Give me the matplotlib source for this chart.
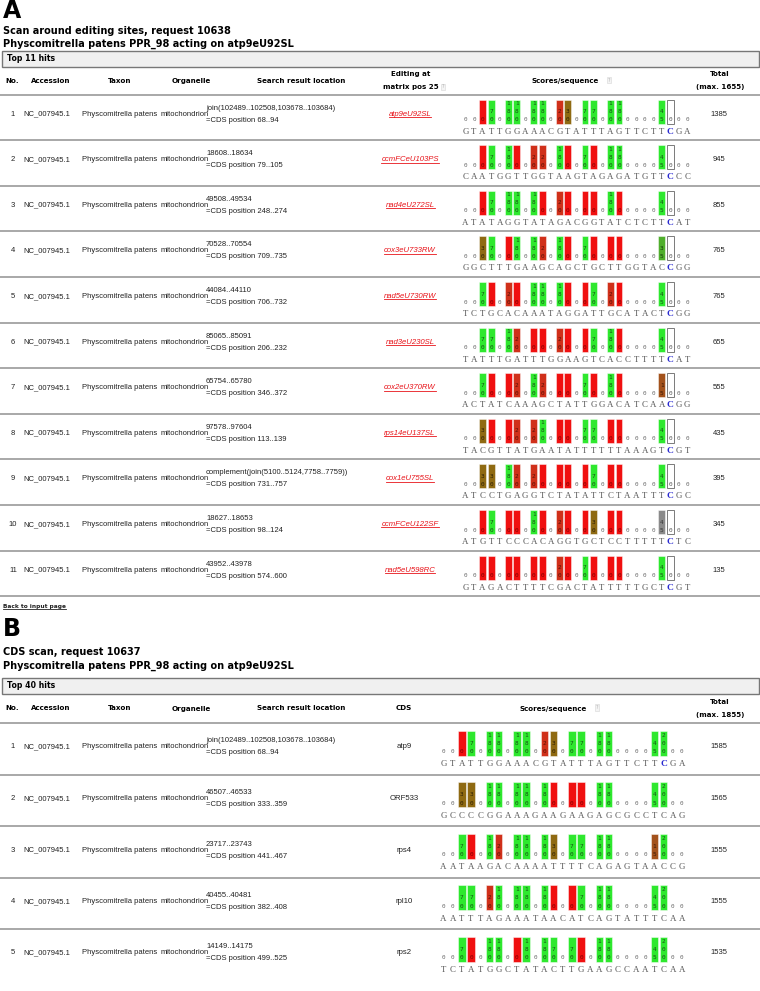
import matplotlib
matplotlib.use('Agg')
import matplotlib.pyplot as plt

# ---- data -------------------------------------------------------------
taxon = 'Physcomitrella patens'
organelle = 'mitochondrion'
accession = 'NC_007945.1'

a_location = ['join(102489..102508,103678..103684)', '18608..18634', '49508..49534',
              '70528..70554', '44084..44110', '85065..85091', '65754..65780',
              '97578..97604', 'complement(join(5100..5124,7758..7759))', '18627..18653',
              '43952..43978']
a_cds_pos = ['68..94', '79..105', '248..274', '709..735', '706..732', '206..232',
             '346..372', '113..139', '731..757', '98..124', '574..600']
a_edit = ['atp9eU92SL', 'ccmFCeU103PS', 'nad4eU272SL', 'cox3eU733RW', 'nad5eU730RW',
          'nad3eU230SL', 'cox2eU370RW', 'rps14eU137SL', 'cox1eU755SL', 'ccmFCeU122SF',
          'nad5eU598RC']
a_total = [1385, 945, 855, 765, 765, 655, 555, 435, 395, 345, 135]
a_seq = ['GTATTGGAAACGTATTTAGTTCTTCGA', 'CAATGGTTGGTAAGTAGAGATGTTCCC',
         'ATATAGGTATAGACGGTATCTCTTCAT', 'GGCTTTGAAGCAGCTGCTTGGTACCGG',
         'TCTGCACAAATAGGATTGCATACTCGG', 'TATTTGATTTGGAAGTCACCTTTTCAT',
         'ACTATCAAAGCTATTGGACATCAACGG', 'TACGTTATGAATATTTTTTAAAGTCGT',
         'ATCCTGAGGTCTATATTCTAATTTCGC', 'ATGTTCCCACAGGTGCTCCTTTTTCTC',
         'GTAGACTTTTCGACTATTTTTGCTCGT']
# per position score codes (see code_score / code_color)
a_codes = ['..rs.GG.GG.db.ss.GG....fw..', '..rs.Gr.dd.Gr.sr.GG....fw..',
           '..rs.GG.Gr.dr.rr.Gr....fw..', '..bs.rG.Gd.Gr.sr.rr....vw..',
           '..sr.dr.GG.Gr.rs.dr....fw..', '..ss.Gd.rr.dr.rs.Gr....fw..',
           '..sr.rd.Gd.rr.sr.Gr....ow..', '..br.rd.dG.rr.ss.rr....fw..',
           '..bb.Gd.dr.rr.rs.rr....fw..', '..rs.rr.Gr.dr.rb.rr....yw..',
           '..rr.rr.rr.dr.sr.rr....fw..']

b_location = ['join(102489..102508,103678..103684)', '46507..46533', '23717..23743',
              '40455..40481', '14149..14175']
b_cds_pos = ['68..94', '333..359', '441..467', '382..408', '499..525']
b_cds = ['atp9', 'ORF533', 'rps4', 'rpl10', 'rps2']
b_total = [1585, 1565, 1555, 1555, 1535]
b_seq = ['GTATTGGAAACGTATTTAGTTCTTCGA', 'GCCCCGGAAAGAAGAAGAGCGCCTCAG',
         'AATAAGACAAAATTTTCAGAGTAACCG', 'AATTTAGAAATAACATCAGTATTTCAA',
         'TCTATGGCTATACTTGAAGCCAATCAA']
b_codes = ['..rs.GG.GG.db.ss.GG....ft..', '..bb.GG.GG.Gr.rr.GG....ft..',
           '..sr.Gd.GG.Gb.ss.GG....ot..', '..ss.dG.GG.Gr.rs.GG....ft..',
           '..sr.GG.rG.Gs.sr.GG....ft..']
b_blue = [True, False, False, False, False]

code_score = {'r': 0, 'd': 20, 'b': 30, 's': 70, 'G': 180, 'f': 45,
              'o': 15, 'v': 35, 'y': 45, 'w': 0, 't': 200}
code_color = {'r': '#f01010', 'd': '#d0301a', 'b': '#8f6a12', 's': '#2ee82e',
              'G': '#2ee82e', 'f': '#2ee82e', 'o': '#a3521c', 'v': '#4fae2c',
              'y': '#8a8a8a', 'w': '#ffffff', 't': '#2ee82e'}
digit_color = {'r': '#800000', 'd': '#5a1005', 'b': '#2e2004', 's': '#145214',
               'G': '#145214', 'f': '#145214', 'o': '#3a1806', 'v': '#143a0a',
               'y': '#333333', 'w': '#555555', 't': '#145214'}

# ---- figure -----------------------------------------------------------
W, H = 760, 991
fig = plt.figure(figsize=(W / 100, H / 100), dpi=100)
ax = fig.add_axes([0, 0, 1, 1])
ax.set_xlim(0, W)
ax.set_ylim(H, 0)
ax.axis('off')

SANS = 'Liberation Sans'
BOLD = 'DejaVu Sans'
SERIF = 'Liberation Serif'
MONO = 'DejaVu Sans Mono'
underlined = []


def hline(y, color='#9a9a9a', lw=1.2):
    ax.plot([0, W], [y, y], color=color, lw=lw, solid_capstyle='butt')


def qmark(x, y):
    ax.text(x, y, '?', fontsize=3.5, color='#b0b0b0', ha='left', va='center', family=BOLD,
            bbox=dict(boxstyle='square,pad=0.15', fc='#f4f4f4', ec='#dddddd', lw=0.5))


def section_head(letter, title1, title2, hits, ys):
    y_letter, y_t1, y_t2, y_box = ys
    ax.text(3, y_letter, letter, fontsize=17, fontweight='bold', family=BOLD, va='center')
    ax.text(3, y_t1, title1, fontsize=7.0, fontweight='bold', family=BOLD, va='center')
    ax.text(3, y_t2, title2, fontsize=7.0, fontweight='bold', family=BOLD, va='center')
    ax.add_patch(plt.Rectangle((2, y_box), W - 3, 16, fc='#f0f0f0', ec='#777777', lw=1))
    ax.text(7, y_box + 8, hits, fontsize=5.6, fontweight='bold', family=BOLD, va='center')


def table_head(y, mid_label, mid_x, max_total, score_x):
    kw = dict(fontsize=5.1, fontweight='bold', family=BOLD, va='center')
    ax.text(5, y, 'No.', ha='left', **kw)
    ax.text(51, y, 'Accession', ha='center', **kw)
    ax.text(120, y, 'Taxon', ha='center', **kw)
    ax.text(191, y, 'Organelle', ha='center', **kw)
    ax.text(301, y, 'Search result location', ha='center', **kw)
    if len(mid_label) == 2:
        ax.text(mid_x, y - 7, mid_label[0], ha='center', **kw)
        ax.text(mid_x, y + 6, mid_label[1], ha='center', **kw)
        qmark(mid_x + 31, y + 6)
    else:
        ax.text(mid_x, y, mid_label[0], ha='center', **kw)
    ax.text(score_x, y, 'Scores/sequence', ha='center', **kw)
    qmark(score_x + 43, y - 1)
    ax.text(720, y - 7, 'Total', ha='center', **kw)
    ax.text(720, y + 6, '(max. %d)' % max_total, ha='center', **kw)


def scores(top, codes, seq, blue, x0, dx, s, pad):
    bar_top = top + pad
    bar_h = 24 * s
    zero_y = bar_top + 20.3 * s
    xs, cols, edges = [], [], []
    for j, c in enumerate(codes):
        x = x0 + dx * j
        if c == '.':
            ax.text(x, zero_y, '0', fontsize=4.3, family=MONO, color='#6a6a6a',
                    ha='center', va='center')
            continue
        xs.append(x)
        cols.append(code_color[c])
        edges.append('#7a7a7a' if c == 'w' else (1, 1, 1, 0.45))
        digits = str(code_score[c])
        for k, ch in enumerate(reversed(digits)):
            ax.text(x, zero_y - k * 8 * s, ch, fontsize=4.4, family=MONO,
                    color=digit_color[c], ha='center', va='center', zorder=4)
    ax.bar(xs, bar_h, bottom=bar_top, width=dx * 0.8, color=cols, edgecolor=edges,
           linewidth=0.7, zorder=3)
    seq_y = bar_top + 32 * s
    for j, ch in enumerate(seq):
        if j == 24 and blue:
            ax.text(x0 + dx * j, seq_y, ch, fontsize=6.8, family=SERIF, fontweight='bold',
                    color='#2a2ad0', ha='center', va='center')
        else:
            ax.text(x0 + dx * j, seq_y, ch, fontsize=6.4, family=SERIF,
                    color='#555555', ha='center', va='center')


def table_row(ty, n, loc, cds_pos, total):
    kw = dict(fontsize=5.5, family=SANS, va='center', color='#222222')
    ax.text(13, ty, str(n), ha='center', **kw)
    ax.text(23, ty, accession, ha='left', **kw)
    ax.text(82, ty, taxon, ha='left', **kw)
    ax.text(161, ty, organelle, ha='left', **kw)
    ax.text(206, ty - 6, loc, ha='left', **kw)
    ax.text(206, ty + 6, '=CDS position ' + cds_pos, ha='left', **kw)
    ax.text(719, ty, str(total), ha='center', **kw)


# ---- panel A ----------------------------------------------------------
section_head('A', 'Scan around editing sites, request 10638',
             'Physcomitrella patens PPR_98 acting on atp9eU92SL', 'Top 11 hits',
             (10.5, 30.5, 43.5, 50.5))
table_head(81, ['Editing at', 'matrix pos 25'], 411, 1655, 565)
a_top, a_h = 94.5, 45.6
hline(a_top)
for i in range(len(a_total)):
    top = a_top + a_h * i
    table_row(top + 19.5, i + 1, a_location[i], a_cds_pos[i], a_total[i])
    t = ax.text(410, top + 19.5, a_edit[i], fontsize=5.6, family=SANS, style='italic',
                color='#e8141a', ha='center', va='center')
    underlined.append((t, '#e8141a'))
    scores(top, a_codes[i], a_seq[i], True, 465.5, 8.53, 1.0, 5)
    hline(top + a_h)

t = ax.text(3, 606.5, 'Back to input page', fontsize=4.2, fontweight='bold', family=BOLD,
            color='#222222', va='center')
underlined.append((t, '#222222'))

# ---- panel B ----------------------------------------------------------
section_head('B', 'CDS scan, request 10637',
             'Physcomitrella patens PPR_98 acting on atp9eU92SL', 'Top 40 hits',
             (629, 652, 666, 678))
table_head(708.5, ['CDS'], 404, 1855, 553)
b_top, b_h = 723.0, 51.5
hline(b_top)
for i in range(len(b_total)):
    top = b_top + b_h * i
    table_row(top + 24, i + 1, b_location[i], b_cds_pos[i], b_total[i])
    ax.text(404, top + 24, b_cds[i], fontsize=5.6, family=SANS, color='#222222',
            ha='center', va='center')
    scores(top, b_codes[i], b_seq[i], b_blue[i], 443.5, 9.17, 1.05, 7.5)
    if i < len(b_total) - 1:
        hline(top + b_h)

# underline links
fig.canvas.draw()
inv = ax.transData.inverted()
for t, c in underlined:
    bb = t.get_window_extent()
    (x1, y1), (x2, y2) = inv.transform([(bb.x0, bb.y0), (bb.x1, bb.y0)])
    ax.plot([x1, x2], [y1 - 0.5, y2 - 0.5], color=c, lw=0.6)

fig.savefig('out.png', dpi=100)
